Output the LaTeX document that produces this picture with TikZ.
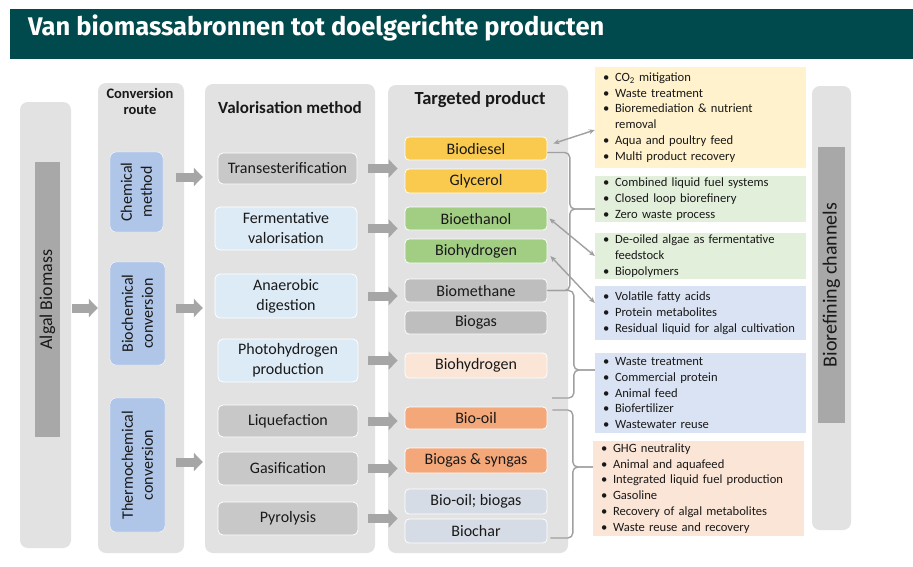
\documentclass[tikz,border=0pt]{standalone}
\usepackage{fontspec}
\setmainfont{Carlito}
\newfontfamily\titlefont{Fira Sans}
\usetikzlibrary{arrows.meta}
\usetikzlibrary{positioning}

\definecolor{titleteal}{RGB}{0,74,77}
\definecolor{colgray}{RGB}{226,226,226}
\definecolor{bargray}{RGB}{168,168,168}
\definecolor{arrgray}{RGB}{166,166,166}
\definecolor{linegray}{RGB}{160,160,160}
\definecolor{routeblue}{RGB}{176,198,232}
\definecolor{methgray}{RGB}{200,200,200}
\definecolor{methblue}{RGB}{221,235,247}
\definecolor{prodyellow}{RGB}{250,202,78}
\definecolor{prodgreen}{RGB}{162,206,132}
\definecolor{prodgray}{RGB}{190,190,190}
\definecolor{prodpeach}{RGB}{251,229,214}
\definecolor{prodorange}{RGB}{244,168,122}
\definecolor{prodslate}{RGB}{214,220,229}
\definecolor{chanyellow}{RGB}{255,242,204}
\definecolor{changreen}{RGB}{226,239,218}
\definecolor{chanblue}{RGB}{218,227,243}
\definecolor{chanpeach}{RGB}{251,229,214}
\definecolor{txt}{RGB}{25,25,25}

\newcommand{\itm}{\makebox[12pt][l]{\textbullet}}
\newcommand{\cnt}{\hspace*{12pt}}

\begin{document}
\begin{tikzpicture}[x=1pt, y=-1pt,
    column/.style={fill=colgray, rounded corners=8pt, inner sep=0pt},
    header/.style={font=\fontsize{17}{18}\selectfont\bfseries, text=txt, align=center},
    routebox/.style={fill=routeblue, draw=white, rounded corners=6pt, rotate=90, align=center,
        font=\fontsize{16}{20}\selectfont, text=txt, inner sep=0pt},
    methbox/.style={draw=white, line width=0.8pt, rounded corners=5pt, align=center,
        font=\fontsize{16}{20}\selectfont, text=txt, inner sep=0pt},
    prodbox/.style={draw=white, line width=0.8pt, rounded corners=4pt, minimum width=142pt,
        font=\fontsize{16}{19}\selectfont, text=txt, inner sep=0pt},
    chanbox/.style={inner xsep=8pt, inner ysep=0pt, align=left, text width=195pt,
        font=\fontsize{12.6}{15.8}\selectfont, text=txt},
    blockarr/.style={draw=arrgray, line width=9pt, -{Triangle[length=9pt,width=18pt]}},
    link/.style={draw=linegray, line width=1.4pt,
        {Stealth[length=6pt,width=5pt]}-{Stealth[length=6pt,width=5pt]}},
    brace/.style={draw=linegray, line width=1.4pt, rounded corners=5pt}]

    \useasboundingbox (0,0) rectangle (913,566);
    \fill[white] (0,0) rectangle (913,566);
    \fill[titleteal] (10,9) rectangle (913,59);
    \node [anchor=base west, text=white, inner sep=0pt,
        font=\titlefont\bfseries\fontsize{25.5}{28}\selectfont] (title) at (28,35)
        {Van biomassabronnen tot doelgerichte producten};

    % columns
    \node [column, minimum width=51pt, minimum height=446pt] (algcol) at (45.5,325) {};
    \node [fill=bargray, rotate=90, minimum width=275pt, minimum height=25pt, inner sep=0pt,
        font=\fontsize{18}{20}\selectfont, text=txt] (algbar) at (47.5,299.5) {Algal Biomass};
    \node [column, minimum width=86pt, minimum height=470pt] (convcol) at (141,318) {};
    \node [column, minimum width=170pt, minimum height=469pt] (valcol) at (290,318.5) {};
    \node [column, minimum width=180pt, minimum height=468pt] (prodcol) at (478,319) {};
    \node [column, minimum width=39pt, minimum height=444pt] (chancol) at (831.5,308) {};
    \node [fill=bargray, rotate=90, minimum width=276pt, minimum height=27pt, inner sep=0pt,
        font=\fontsize{20}{22}\selectfont, text=txt] (chanbar) at (831.5,285) {Biorefining channels};

    \node [header, font=\fontsize{14.5}{16}\selectfont\bfseries] (convhead) at (140,101) {Conversion\\route};
    \node [header] (valhead) at (290,108) {Valorisation method};
    \node [header, font=\fontsize{18.5}{19}\selectfont\bfseries] (prodhead) at (480,100) {Targeted product};

    % conversion routes
    \node [routebox, minimum width=80pt, minimum height=53pt] (chem) at (136.5,192) {Chemical\\method};
    \node [routebox, minimum width=103pt, minimum height=55pt] (biochem) at (137.5,313.5) {Biochemical\\conversion};
    \node [routebox, minimum width=134pt, minimum height=55pt] (thermo) at (137.5,465) {Thermochemical\\conversion};

    % valorisation methods
    \node [methbox, fill=methgray, minimum width=139pt, minimum height=31pt] (trans) at (287.5,168.5) {Transesterification};
    \node [methbox, fill=methblue, minimum width=142pt, minimum height=43pt] (ferm) at (286,228.5) {Fermentative\\valorisation};
    \node [methbox, fill=methblue, minimum width=142pt, minimum height=44pt] (anaer) at (286,296) {Anaerobic\\digestion};
    \node [methbox, fill=methblue, minimum width=140pt, minimum height=43pt] (photo) at (288,360.5) {Photohydrogen\\production};
    \node [methbox, fill=methgray, minimum width=140pt, minimum height=32pt] (liq) at (288,421) {Liquefaction};
    \node [methbox, fill=methgray, minimum width=140pt, minimum height=33pt] (gas) at (288,468.5) {Gasification};
    \node [methbox, fill=methgray, minimum width=140pt, minimum height=33pt] (pyro) at (288,518.5) {Pyrolysis};

    % targeted products
    \node [prodbox, fill=prodyellow, minimum height=23pt] (biodiesel) at (476,148.5) {Biodiesel};
    \node [prodbox, fill=prodyellow, minimum height=24pt] (glycerol) at (476,181) {Glycerol};
    \node [prodbox, fill=prodgreen, minimum height=23pt] (bioethanol) at (476,218.5) {Bioethanol};
    \node [prodbox, fill=prodgreen, minimum height=24pt] (biohydgreen) at (476,251) {Biohydrogen};
    \node [prodbox, fill=prodgray, minimum height=23pt] (biomethane) at (476,290.5) {Biomethane};
    \node [prodbox, fill=prodgray, minimum height=23pt] (biogas) at (476,322.5) {Biogas};
    \node [prodbox, fill=prodpeach, minimum height=25pt] (biohydpeach) at (476,365.5) {Biohydrogen};
    \node [prodbox, fill=prodorange, minimum height=22pt] (biooil) at (476,418) {Bio-oil};
    \node [prodbox, fill=prodorange, minimum height=25pt] (biosyngas) at (476,460.5) {Biogas \& syngas};
    \node [prodbox, fill=prodslate, minimum height=25pt] (biooilgas) at (476,501.5) {Bio-oil; biogas};
    \node [prodbox, fill=prodslate, minimum height=24pt] (biochar) at (476,531) {Biochar};

    % biorefining channels
    \node [chanbox, fill=chanyellow, minimum height=101pt] (chY) at (700.5,117.5)
        {\itm CO\textsubscript{2} mitigation\\ \itm Waste treatment\\ \itm Bioremediation \& nutrient\\
         \cnt removal\\ \itm Aqua and poultry feed\\ \itm Multi product recovery};
    \node [chanbox, fill=changreen, minimum height=46pt] (chGa) at (700.5,199)
        {\itm Combined liquid fuel systems\\ \itm Closed loop biorefinery\\ \itm Zero waste process};
    \node [chanbox, fill=changreen, minimum height=46pt] (chGb) at (700.5,256)
        {\itm De-oiled algae as fermentative\\ \cnt feedstock\\ \itm Biopolymers};
    \node [chanbox, fill=chanblue, minimum height=54pt] (chBa) at (700.5,313)
        {\itm Volatile fatty acids\\ \itm Protein metabolites\\ \itm Residual liquid for algal cultivation};
    \node [chanbox, fill=chanblue, minimum height=80pt] (chBb) at (700.5,393)
        {\itm Waste treatment\\ \itm Commercial protein\\ \itm Animal feed\\ \itm Biofertilizer\\ \itm Wastewater reuse};
    \node [chanbox, fill=chanpeach, minimum height=95pt] (chP) at (698.5,488.5)
        {\itm GHG neutrality\\ \itm Animal and aquafeed\\ \itm Integrated liquid fuel production\\
         \itm Gasoline\\ \itm Recovery of algal metabolites\\ \itm Waste reuse and recovery};

    % block arrows
    \draw [blockarr, shorten <=1pt] (algcol.east |- 0,308) -- (convcol.west |- 0,308);
    \draw [blockarr, shorten <=13pt, shorten >=2pt] (chem.south |- 0,177) -- (valcol.west |- 0,177);
    \draw [blockarr, shorten <=11pt, shorten >=2pt] (biochem.south |- 0,308) -- (valcol.west |- 0,308);
    \draw [blockarr, shorten <=11pt, shorten >=2pt] (thermo.south |- 0,462) -- (valcol.west |- 0,462);
    \draw [blockarr, shorten <=11pt, shorten >=7pt] (trans.east) -- (trans.east -| biodiesel.west);
    \draw [blockarr, shorten <=11pt, shorten >=7pt] (ferm.east) -- (ferm.east -| biodiesel.west);
    \draw [blockarr, shorten <=11pt, shorten >=7pt] (anaer.east) -- (anaer.east -| biodiesel.west);
    \draw [blockarr, shorten <=10pt, shorten >=7pt] (photo.east) -- (photo.east -| biodiesel.west);
    \draw [blockarr, shorten <=10pt, shorten >=7pt] (liq.east) -- (liq.east -| biodiesel.west);
    \draw [blockarr, shorten <=10pt, shorten >=7pt] (gas.east) -- (gas.east -| biodiesel.west);
    \draw [blockarr, shorten <=10pt, shorten >=7pt] (pyro.east) -- (pyro.east -| biodiesel.west);

    % links to channels
    \draw [link] ([xshift=6pt,yshift=5pt]biodiesel.east) -- ([yshift=-12.5pt]chY.west);
    \draw [link] ([xshift=2pt]bioethanol.east) -- (chGb.west);
    \draw [link] ([xshift=3pt,yshift=-5pt]biohydgreen.east) -- ([yshift=10pt]chBa.west);

    % braces
    \coordinate (tipa) at ([yshift=-10pt]chGa.west);
    \coordinate (tipb) at ([yshift=23pt]chBb.west);
    \coordinate (tipc) at ([yshift=21.5pt]chP.west);
    \coordinate (endb) at (552,398);
    \draw [brace] ([yshift=-4pt]biodiesel.east) -| ([xshift=-25pt]tipa) -- (tipa);
    \draw [brace] (biomethane.east) -| ([xshift=-25pt]tipa) -- (tipa);
    \draw [brace] (biomethane.east) -| ([xshift=-21pt]tipb) -- (tipb);
    \draw [brace] (endb) -| ([xshift=-21pt]tipb) -- (tipb);
    \draw [brace] ([xshift=5pt,yshift=8pt]biooil.east) -| ([xshift=-20pt]tipc) -- (tipc);
    \draw [brace] ([xshift=3pt,yshift=-7pt]biochar.east) -| ([xshift=-20pt]tipc) -- (tipc);
\end{tikzpicture}
\end{document}
